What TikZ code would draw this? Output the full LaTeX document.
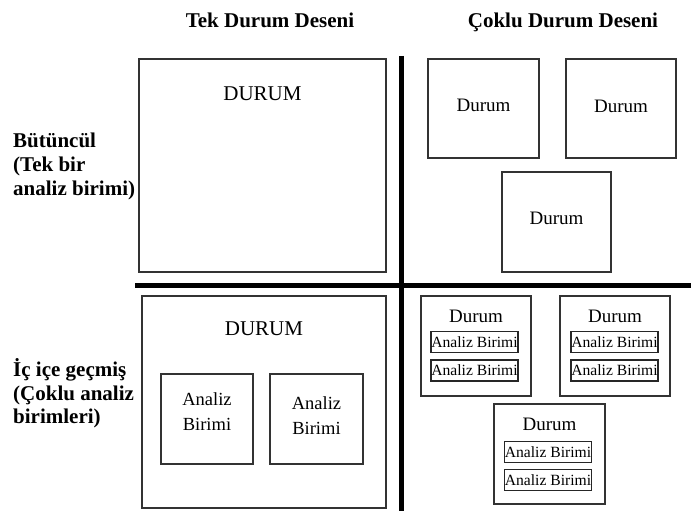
\documentclass[tikz,border=0pt]{standalone}
\usepackage{fontspec}
\setmainfont{Liberation Serif}
\begin{document}
\begin{tikzpicture}[x=1pt,y=-1pt,
  frame/.style={draw=black!80, line width=1.2pt, inner sep=0pt},
  sub/.style={draw=black!85, line width=1.4pt, inner sep=0pt, minimum width=87pt, minimum height=21pt, font=\fontsize{15.6}{15.6}\selectfont},
  head/.style={font=\bfseries\fontsize{21}{24}\selectfont, inner sep=0pt, anchor=base},
  side/.style={font=\bfseries\fontsize{21}{24}\selectfont, inner sep=0pt, anchor=base west},
  bigcap/.style={font=\fontsize{21}{24}\selectfont, inner sep=0pt, anchor=base},
  dur/.style={font=\fontsize{19}{22}\selectfont, inner sep=0pt, anchor=base},
  unit/.style={font=\fontsize{18.5}{25}\selectfont, inner sep=0pt, align=center},
  divider/.style={line width=5pt, draw=black}]
\useasboundingbox (0,0) rectangle (691,511);
% headers
\node[head] (h1) at (270,28) {Tek Durum Deseni};
\node[head] (h2) at (563,28) {Çoklu Durum Deseni};
% side labels
\node[side] (s1) at (13,147) {Bütüncül};
\node[side] (s2) at (13,171) {(Tek bir};
\node[side] (s3) at (13,195) {analiz birimi)};
\node[side] (s4) at (13,376) {İç içe geçmiş};
\node[side] (s5) at (13,400) {(Çoklu analiz};
\node[side] (s6) at (13,423) {birimleri)};
% dividers
\coordinate (vt) at (401,56);
\coordinate (vb) at (401,511);
\coordinate (hl) at (135,285);
\coordinate (hr) at (691,285);
\draw[divider] (vt) -- (vb);
\draw[divider] (hl) -- (hr);
% top-left
\node[frame, minimum width=247pt, minimum height=213pt] (tl) at (262.5,165.5) {};
\node[bigcap] (tlt) at (262.5,100) {DURUM};
% top-right
\node[frame, minimum width=111pt, minimum height=99pt] (tr1) at (483.5,108.5) {};
\node[dur] (tr1t) at (483.5,111) {Durum};
\node[frame, minimum width=110pt, minimum height=99pt] (tr2) at (621,108.5) {};
\node[dur] (tr2t) at (621,112) {Durum};
\node[frame, minimum width=109pt, minimum height=100pt] (tr3) at (556.5,222) {};
\node[dur] (tr3t) at (556.5,224) {Durum};
% bottom-left
\node[frame, minimum width=244pt, minimum height=212pt] (bl) at (264,402) {};
\node[bigcap] (blt) at (264,335) {DURUM};
\node[frame, minimum width=92pt, minimum height=90pt] (ba) at (207,419) {};
\node[unit, anchor=base] (bat) at (207,430) {Analiz\\Birimi};
\node[frame, minimum width=93pt, minimum height=90pt] (bb) at (316.5,419) {};
\node[unit, anchor=base] (bbt) at (316.5,434) {Analiz\\Birimi};
% bottom-right
\node[frame, minimum width=110pt, minimum height=100pt] (br1) at (476,346) {};
\node[dur] (br1t) at (476,322) {Durum};
\node[sub] (br1a) at (474.5,342) {Analiz Birimi};
\node[sub] (br1b) at (474.5,370.5) {Analiz Birimi};
\node[frame, minimum width=110pt, minimum height=100pt] (br2) at (615,346) {};
\node[dur] (br2t) at (615,322) {Durum};
\node[sub] (br2a) at (614.5,342) {Analiz Birimi};
\node[sub] (br2b) at (614.5,370.5) {Analiz Birimi};
\node[frame, minimum width=111pt, minimum height=100pt] (br3) at (549.5,454) {};
\node[dur] (br3t) at (549.5,430) {Durum};
\node[sub] (br3a) at (548,452) {Analiz Birimi};
\node[sub] (br3b) at (548,480) {Analiz Birimi};
\end{tikzpicture}
\end{document}
